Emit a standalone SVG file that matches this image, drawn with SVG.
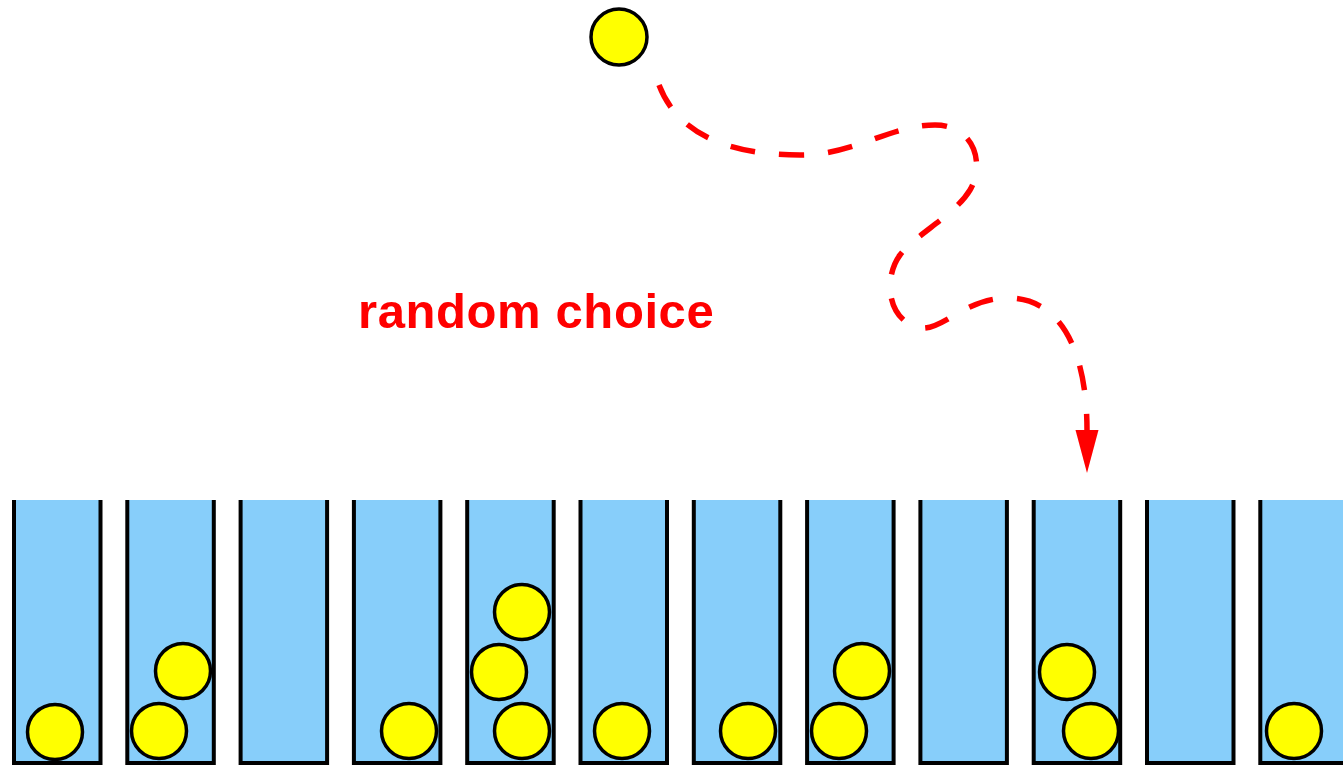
<svg xmlns="http://www.w3.org/2000/svg" width="1343" height="766" viewBox="0 0 1343 766">
  <style>
    .bin-fill { fill: #87CEFA; stroke: none; }
    .bin-wall { fill: none; stroke: #000; stroke-width: 4; stroke-linejoin: miter; }
    .ball { fill: #FFFF00; stroke: #000; stroke-width: 3.5; }
    .path { fill: none; stroke: #FF0000; stroke-width: 5.5; stroke-dasharray: 25 24; }
    .label { fill: #FF0000; font-family: "Liberation Sans", Arial, sans-serif; font-weight: bold; font-size: 49px; letter-spacing: 0.6px; }
  </style>
  <defs>
    <marker id="arrowhead" markerUnits="userSpaceOnUse" markerWidth="46" markerHeight="26" refX="0" refY="12" orient="auto">
      <path d="M0,0.5 L43,12 L0,23.5 Z" fill="#FF0000"/>
    </marker>
    <g id="bin">
      <rect class="bin-fill" x="0" y="500" width="86.5" height="263"/>
      <path class="bin-wall" d="M0,500 V763 H86.5 V500"/>
    </g>
  </defs>

  <!-- falling ball -->
  <g id="ball-drop">
    <circle class="ball" cx="619" cy="37" r="28"/>
  </g>

  <!-- label -->
  <g id="label">
    <text class="label" x="358" y="328">random choice</text>
  </g>

  <!-- connector: random path into a bin -->
  <g id="connectors">
    <path class="path" marker-end="url(#arrowhead)" d="M659,85 C678,135 730,155 800,155 C855,155 890,125 935,125 C975,125 985,165 970,190 C955,215 915,235 900,255 C885,275 885,315 915,327 C940,335 960,300 1005,298 C1060,296 1087,350 1087,430"/>
  </g>

  <!-- bins -->
  <g id="bin-1"><use href="#bin" x="14"/><circle class="ball" cx="55" cy="732" r="27.5"/></g>
  <g id="bin-2"><use href="#bin" x="127.3"/><circle class="ball" cx="159" cy="731" r="27.5"/><circle class="ball" cx="183" cy="671" r="27.5"/></g>
  <g id="bin-3"><use href="#bin" x="240.6"/></g>
  <g id="bin-4"><use href="#bin" x="353.9"/><circle class="ball" cx="409" cy="731" r="27.5"/></g>
  <g id="bin-5"><use href="#bin" x="467.2"/><circle class="ball" cx="522" cy="731" r="27.5"/><circle class="ball" cx="499" cy="672" r="27.5"/><circle class="ball" cx="522" cy="612" r="27.5"/></g>
  <g id="bin-6"><use href="#bin" x="580.5"/><circle class="ball" cx="622" cy="731" r="27.5"/></g>
  <g id="bin-7"><use href="#bin" x="693.8"/><circle class="ball" cx="748" cy="731" r="27.5"/></g>
  <g id="bin-8"><use href="#bin" x="807.1"/><circle class="ball" cx="839" cy="731" r="27.5"/><circle class="ball" cx="862" cy="671" r="27.5"/></g>
  <g id="bin-9"><use href="#bin" x="920.4"/></g>
  <g id="bin-10"><use href="#bin" x="1033.7"/><circle class="ball" cx="1091" cy="731" r="27.5"/><circle class="ball" cx="1067" cy="672" r="27.5"/></g>
  <g id="bin-11"><use href="#bin" x="1147"/></g>
  <g id="bin-12"><use href="#bin" x="1260.3"/><circle class="ball" cx="1294" cy="731" r="27.5"/></g>
</svg>
